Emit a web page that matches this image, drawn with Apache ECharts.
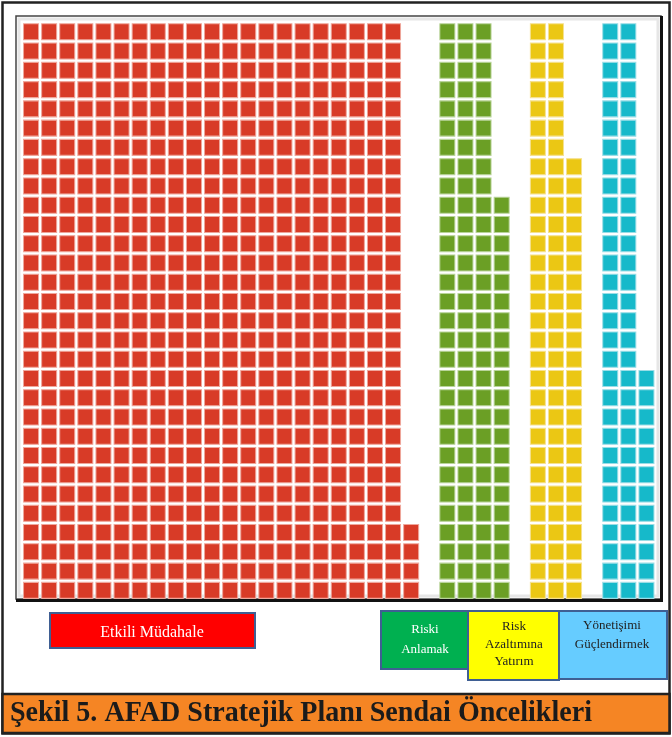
<!DOCTYPE html>
<html><head><meta charset="utf-8">
<script src="https://cdn.jsdelivr.net/npm/echarts@6/dist/echarts.min.js"></script>
<style>html,body{margin:0;padding:0;background:#fff}#c{width:672px;height:737px}</style>
</head><body><div id="c"></div>
<script>
// ---- data ----
const categories = ['Etkili Müdahale', 'Riski Anlamak', 'Risk Azaltımına Yatırım', 'Yönetişimi Güçlendirmek'];
const cellCounts = [634, 111, 83, 72];
const legendLines = [['Etkili Müdahale'], ['Riski', 'Anlamak'], ['Risk', 'Azaltımına', 'Yatırım'], ['Yönetişimi', 'Güçlendirmek']];
const rowsPerColumn = 30;
const totalColumns = 35;
const captionText = 'Şekil 5. AFAD Stratejik Planı Sendai Öncelikleri';

// ---- styles ----
const cellColors = ['#d83b27', '#6b9f25', '#ebc714', '#16b9ca'];
const edgeColors = ['#efa69b', '#b9d49a', '#f5e190', '#9adde6'];
const boxColors = ['#ff0000', '#00b050', '#ffff00', '#66ccff'];
const boxTextColors = ['#ffffff', '#ffffff', '#222222', '#222222'];

const series = [];
let col = 0;
categories.forEach((name, g) => {
  const data = [];
  for (let i = 0; i < cellCounts[g]; i++) {
    data.push([col + Math.floor(i / rowsPerColumn), i % rowsPerColumn]);
  }
  col += Math.ceil(cellCounts[g] / rowsPerColumn) + 1;
  series.push({
    type: 'scatter', name, data, symbol: 'rect', symbolSize: [15, 16],
    itemStyle: { color: cellColors[g], borderColor: edgeColors[g], borderWidth: 1, opacity: 1 },
    silent: true, animation: false, z: 5
  });
});

function measure(text, font) {
  const c = document.createElement('canvas').getContext('2d');
  c.font = font;
  return c.measureText(text).width;
}

const capFont = 'bold 29px "Liberation Serif"';
const capScale = 582 / measure(captionText, capFont);

const boxes = [
  { x: 50, y: 613, w: 205, h: 35, lines: [633], cx: 152 },
  { x: 381, y: 611, w: 87, h: 58, lines: [630, 650], cx: 425 },
  { x: 468, y: 611, w: 91, h: 69, lines: [627, 645, 662], cx: 514 },
  { x: 559, y: 611, w: 108, h: 68, lines: [626, 645], cx: 612 }
];

const graphics = [];
// outer frame
graphics.push({ type: 'rect', shape: { x: 2.5, y: 2.5, width: 667, height: 731 }, style: { fill: '#fff', stroke: '#222', lineWidth: 2.5 }, z: -10 });
// inner chart frame
graphics.push({ type: 'rect', shape: { x: 16, y: 16, width: 645, height: 583 }, style: { fill: '#fff', stroke: '#444', lineWidth: 1.5 }, z: -9 });
graphics.push({ type: 'rect', shape: { x: 19, y: 19, width: 639, height: 577 }, style: { fill: 'none', stroke: '#e6e6e6', lineWidth: 3 }, z: -8 });
graphics.push({ type: 'polyline', shape: { points: [[661.5, 16], [661.5, 600.5], [16, 600.5]] }, style: { stroke: '#111', lineWidth: 3, fill: 'none' }, z: -7 });
// legend boxes
boxes.forEach((b, i) => {
  graphics.push({ type: 'rect', shape: { x: b.x, y: b.y, width: b.w, height: b.h }, style: { fill: boxColors[i], stroke: '#3f5f93', lineWidth: 2 }, z: 10 });
  legendLines[i].forEach((t, k) => {
    graphics.push({ type: 'text', x: b.cx, y: b.lines[k], z: 11,
      style: { text: t, fill: boxTextColors[i], font: (i === 0 ? '16px' : '13px') + ' "Liberation Serif"', textAlign: 'center', textVerticalAlign: 'middle' } });
  });
});
// caption band
graphics.push({ type: 'rect', shape: { x: 2.5, y: 694, width: 667, height: 39 }, style: { fill: '#f58524', stroke: '#222', lineWidth: 2.5 }, z: 10 });
graphics.push({ type: 'text', x: 10, y: 714, scaleX: capScale, z: 11,
  style: { text: captionText, fill: '#1b1b1b', font: capFont, textAlign: 'left', textVerticalAlign: 'middle' } });

const chart = echarts.init(document.getElementById('c'), null, { renderer: 'canvas' });
chart.setOption({
  animation: false,
  grid: { left: 22, top: 22.2, width: 633.5, height: 577.8, containLabel: false },
  xAxis: { type: 'value', min: -0.5, max: totalColumns - 0.5, show: false },
  yAxis: { type: 'value', min: -0.5, max: rowsPerColumn - 0.5, show: false },
  graphic: { elements: graphics },
  series
});
</script></body></html>
